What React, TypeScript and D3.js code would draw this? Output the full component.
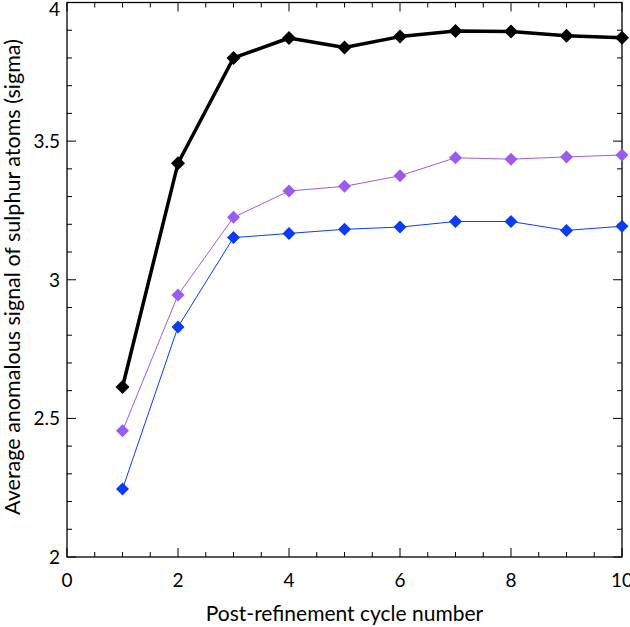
import React from "react";
import * as d3 from "d3";

const cycles = [1, 2, 3, 4, 5, 6, 7, 8, 9, 10];
const blackSeries = [2.613, 3.42, 3.8, 3.872, 3.838, 3.877, 3.897, 3.895, 3.88, 3.873];
const purpleSeries = [2.455, 2.945, 3.225, 3.32, 3.337, 3.375, 3.44, 3.435, 3.443, 3.45];
const blueSeries = [2.245, 2.83, 3.152, 3.167, 3.182, 3.19, 3.21, 3.21, 3.178, 3.193];
const xTicks = [0, 2, 4, 6, 8, 10];
const yTicks = [2, 2.5, 3, 3.5, 4];

const W = 630, H = 627;
const L = 67, R = 622, T = 2.5, B = 557;

export default function App() {
  const x = d3.scaleLinear().domain([0, 10]).range([L, R]);
  const y = d3.scaleLinear().domain([2, 4]).range([B, T]);
  const line = d3.line<number>().x((_, i) => x(cycles[i])).y((d) => y(d));
  const font = "Lato, 'Open Sans', sans-serif";
  const diamond = (cx: number, cy: number, r: number) =>
    `M${cx},${cy - r}L${cx + r},${cy}L${cx},${cy + r}L${cx - r},${cy}Z`;

  const series = [
    { data: blueSeries, color: "#0a3cf5", w: 1, r: 6.5 },
    { data: purpleSeries, color: "#9a5cf0", w: 1, r: 6.5 },
    { data: blackSeries, color: "#000000", w: 3.5, r: 7 },
  ];

  const xMinor = d3.range(0, 10.001, 0.5);
  const yMinor = d3.range(2, 4.001, 0.1);

  return (
    <svg width={W} height={H} style={{ position: "absolute", left: 0, top: 0, background: "#fff" }}>
      <rect x={0} y={0} width={W} height={H} fill="#fff" />
      {xMinor.map((v, i) => {
        const major = Math.abs(v / 2 - Math.round(v / 2)) < 1e-6;
        const len = major ? 9 : 5;
        return (
          <g key={"xt" + i} stroke="#000" strokeWidth={1}>
            <line x1={x(v)} x2={x(v)} y1={B} y2={B - len} />
            <line x1={x(v)} x2={x(v)} y1={T} y2={T + len} />
          </g>
        );
      })}
      {yMinor.map((v, i) => {
        const major = Math.abs(v * 2 - Math.round(v * 2)) < 1e-6;
        const len = major ? 9 : 5;
        return (
          <g key={"yt" + i} stroke="#000" strokeWidth={1}>
            <line x1={L} x2={L + len} y1={y(v)} y2={y(v)} />
            <line x1={R} x2={R - len} y1={y(v)} y2={y(v)} />
          </g>
        );
      })}
      <rect x={L} y={T} width={R - L} height={B - T} fill="none" stroke="#000" strokeWidth={1.3} />
      {xTicks.map((v) => (
        <text key={"xl" + v} x={x(v)} y={587} textAnchor="middle" fontFamily={font} fontSize={19} fill="#000">
          {v}
        </text>
      ))}
      {yTicks.map((v) => (
        <text
          key={"yl" + v}
          x={L - 7}
          y={Math.max(y(v) + 7, 16)}
          textAnchor="end"
          fontFamily={font}
          fontSize={19}
          fill="#000"
        >
          {v}
        </text>
      ))}
      <text x={(206 + 483) / 2} y={621} textAnchor="middle" fontFamily={font} fontSize={21} fill="#000">
        Post-refinement cycle number
      </text>
      <text
        transform={`translate(19.5,277) rotate(-90)`}
        textAnchor="middle"
        fontFamily={font}
        fontSize={21.5}
        fill="#000"
      >
        Average anomalous signal of sulphur atoms (sigma)
      </text>
      {series.map((s, si) => (
        <g key={"s" + si}>
          <path d={line(s.data) || ""} fill="none" stroke={s.color} strokeWidth={s.w} strokeLinejoin="round" />
          {s.data.map((v, i) => (
            <path key={i} d={diamond(x(cycles[i]), y(v), s.r)} fill={s.color} />
          ))}
        </g>
      ))}
    </svg>
  );
}
